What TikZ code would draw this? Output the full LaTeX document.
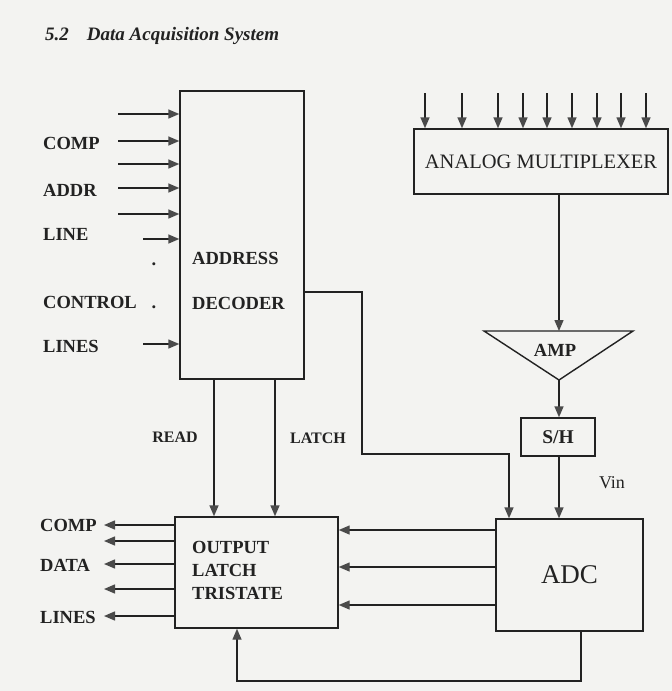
\documentclass[tikz,border=0pt]{standalone}
\usepackage{fontspec}
\setmainfont{Liberation Serif}
\usetikzlibrary{arrows.meta}
\definecolor{paper}{HTML}{F3F3F1}
\definecolor{ink}{HTML}{222222}
\definecolor{headc}{HTML}{4A4A4A}
\tikzset{
  box/.style={draw=ink, line width=1.4pt, inner sep=0pt},
  wire/.style={draw=ink, line width=1.4pt},
  arr/.style={wire, -{Triangle[length=11pt,width=9pt,color=headc]}},
  lbl/.style={text=ink, inner sep=0pt, font=\bfseries\fontsize{18.5}{20}\selectfont},
  lbls/.style={text=ink, inner sep=0pt, font=\bfseries\fontsize{16}{18}\selectfont},
}
\begin{document}
\begin{tikzpicture}[x=1pt,y=-1pt]
\fill[paper] (0,0) rectangle (672,691);
\useasboundingbox (0,0) rectangle (672,691);

% title
\node[text=ink, inner sep=0pt, anchor=base west, font=\bfseries\itshape\fontsize{19}{21}\selectfont] (title) at (45,40) {5.2\hspace{18pt}Data Acquisition System};

% address decoder
\node[box, minimum width=124pt, minimum height=288pt] (dec) at (242,235) {};
\node[lbl, anchor=west] (decA) at (192,258) {ADDRESS};
\node[lbl, anchor=west] (decB) at (192,303) {DECODER};

% inputs to decoder
\foreach \y/\x [count=\i] in {114/118,141/118,164/118,188/118,214/118,239/143,344/143} {
  \coordinate (in\i) at (\x,\y);
  \draw[arr] (in\i) -- (in\i -| dec.west);
}
\node[lbl, anchor=west] (lcomp) at (43,143) {COMP};
\node[lbl, anchor=west] (laddr) at (43,190) {ADDR};
\node[lbl, anchor=west] (lline) at (43,234) {LINE};
\node[lbl, anchor=west] (lctrl) at (43,302) {CONTROL};
\node[lbl, anchor=west] (llines) at (43,346) {LINES};
\node[lbl, anchor=base] (dot1) at (154,265) {.};
\node[lbl, anchor=base] (dot2) at (154,308) {.};

% analog multiplexer
\node[box, minimum width=254pt, minimum height=65pt, text=ink, font=\fontsize{20.5}{22}\selectfont] (mux) at (541,161.5) {ANALOG MULTIPLEXER};
\foreach \x [count=\i] in {425,462,498,523,547,572,597,621,646} {
  \coordinate (m\i) at (\x,93);
  \draw[arr] (m\i) -- (m\i |- mux.north);
}

% amplifier
\coordinate (ampL) at (484,331);
\coordinate (ampR) at (633,331);
\coordinate (ampT) at (559,331);
\coordinate (ampA) at (559,380);
\draw[wire, line join=miter] (ampL) -- (ampR) -- (ampA) -- cycle;
\node[lbl] (amp) at (555,350) {AMP};
\draw[arr] (ampT |- mux.south) -- (ampT);

% sample and hold
\node[box, minimum width=74pt, minimum height=38pt, lbl, font=\bfseries\fontsize{19.5}{21}\selectfont] (sh) at (558,437) {S/H};
\draw[arr] (ampA) -- (ampA |- sh.north);

% ADC
\node[box, minimum width=147pt, minimum height=112pt, text=ink, font=\fontsize{27}{29}\selectfont] (adc) at (569.5,575) {ADC};
\coordinate (vinx) at (559,0);
\draw[arr] (vinx |- sh.south) -- (vinx |- adc.north);
\node[text=ink, inner sep=0pt, font=\fontsize{18}{20}\selectfont] (vin) at (612,483) {Vin};

% output latch
\node[box, minimum width=163pt, minimum height=111pt] (out) at (256.5,572.5) {};
\node[lbl, anchor=west] (o1) at (192,547) {OUTPUT};
\node[lbl, anchor=west] (o2) at (192,570) {LATCH};
\node[lbl, anchor=west] (o3) at (192,593) {TRISTATE};

% READ / LATCH from decoder
\coordinate (rdx) at (214,0);
\coordinate (ltx) at (275,0);
\draw[arr] (rdx |- dec.south) -- (rdx |- out.north);
\draw[arr] (ltx |- dec.south) -- (ltx |- out.north);
\node[lbls] (lread) at (175,437) {READ};
\node[lbls] (llatch) at (318,438) {LATCH};

% decoder to ADC control line
\coordinate (c0) at (0,292);
\coordinate (c1) at (362,292);
\coordinate (c2) at (362,454);
\coordinate (c3) at (509,454);
\draw[arr] (c0 -| dec.east) -- (c1) -- (c2) -- (c3) -- (c3 |- adc.north);

% ADC to output latch
\foreach \y [count=\i] in {530,567,605} {
  \coordinate (r\i) at (0,\y);
  \draw[arr] (r\i -| adc.west) -- (r\i -| out.east);
}

% feedback
\coordinate (f1) at (581,681);
\coordinate (f2) at (237,681);
\draw[arr] (f1 |- adc.south) -- (f1) -- (f2) -- (f2 |- out.south);

% outputs of latch
\foreach \y [count=\i] in {525,541,564,589,616} {
  \coordinate (o\i) at (104,\y);
  \draw[arr] (o\i -| out.west) -- (o\i);
}
\node[lbl, anchor=west] (qcomp) at (40,525) {COMP};
\node[lbl, anchor=west] (qdata) at (40,565) {DATA};
\node[lbl, anchor=west] (qlines) at (40,617) {LINES};
\end{tikzpicture}
\end{document}
